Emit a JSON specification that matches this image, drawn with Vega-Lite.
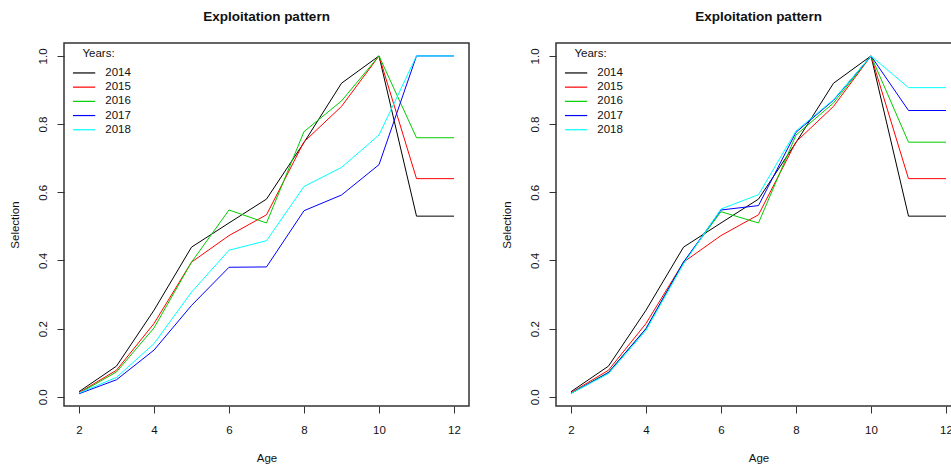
{
  "$schema": "https://vega.github.io/schema/vega-lite/v6.json",
  "padding": {"left": 8, "top": 8, "right": 0, "bottom": 0},
  "bounds": "flush",
  "spacing": 87,
  "background": "white",
  "config": {
    "font": "Liberation Sans",
    "view": {"stroke": "#333333", "strokeWidth": 1.5},
    "axis": {
      "grid": false,
      "domain": false,
      "tickColor": "#333333",
      "tickSize": 7,
      "labelFontSize": 11.5,
      "labelColor": "#111111",
      "titleFontSize": 11.5,
      "titleFontWeight": "normal",
      "titleColor": "#111111"
    },
    "title": {"fontSize": 13.5, "fontWeight": "bold", "color": "#111111", "offset": 20},
    "legend": {
      "orient": "none",
      "legendX": 1.5,
      "legendY": 5,
      "padding": 0,
      "symbolType": "M0.456,0H6.466",
      "symbolSize": 55,
      "symbolStrokeWidth": 1.2,
      "labelFontSize": 11.5,
      "labelColor": "#111111",
      "labelOffset": 28.3,
      "titleFontSize": 11.5,
      "titleFontWeight": "normal",
      "titleColor": "#111111",
      "titleAnchor": "middle",
      "titlePadding": 7.7,
      "rowPadding": 1.2
    }
  },
  "datasets": {
    "left": [
      {"year": "2014", "age": 2, "sel": 0.015}, {"year": "2014", "age": 3, "sel": 0.09}, {"year": "2014", "age": 4, "sel": 0.254}, {"year": "2014", "age": 5, "sel": 0.439}, {"year": "2014", "age": 6, "sel": 0.51}, {"year": "2014", "age": 7, "sel": 0.58}, {"year": "2014", "age": 8, "sel": 0.746}, {"year": "2014", "age": 9, "sel": 0.92}, {"year": "2014", "age": 10, "sel": 1.0}, {"year": "2014", "age": 11, "sel": 0.53}, {"year": "2014", "age": 12, "sel": 0.53},
      {"year": "2015", "age": 2, "sel": 0.012}, {"year": "2015", "age": 3, "sel": 0.078}, {"year": "2015", "age": 4, "sel": 0.215}, {"year": "2015", "age": 5, "sel": 0.395}, {"year": "2015", "age": 6, "sel": 0.473}, {"year": "2015", "age": 7, "sel": 0.534}, {"year": "2015", "age": 8, "sel": 0.748}, {"year": "2015", "age": 9, "sel": 0.852}, {"year": "2015", "age": 10, "sel": 1.0}, {"year": "2015", "age": 11, "sel": 0.64}, {"year": "2015", "age": 12, "sel": 0.64},
      {"year": "2016", "age": 2, "sel": 0.01}, {"year": "2016", "age": 3, "sel": 0.073}, {"year": "2016", "age": 4, "sel": 0.202}, {"year": "2016", "age": 5, "sel": 0.395}, {"year": "2016", "age": 6, "sel": 0.548}, {"year": "2016", "age": 7, "sel": 0.51}, {"year": "2016", "age": 8, "sel": 0.778}, {"year": "2016", "age": 9, "sel": 0.868}, {"year": "2016", "age": 10, "sel": 1.0}, {"year": "2016", "age": 11, "sel": 0.76}, {"year": "2016", "age": 12, "sel": 0.76},
      {"year": "2017", "age": 2, "sel": 0.009}, {"year": "2017", "age": 3, "sel": 0.05}, {"year": "2017", "age": 4, "sel": 0.137}, {"year": "2017", "age": 5, "sel": 0.268}, {"year": "2017", "age": 6, "sel": 0.38}, {"year": "2017", "age": 7, "sel": 0.381}, {"year": "2017", "age": 8, "sel": 0.546}, {"year": "2017", "age": 9, "sel": 0.592}, {"year": "2017", "age": 10, "sel": 0.681}, {"year": "2017", "age": 11, "sel": 1.0}, {"year": "2017", "age": 12, "sel": 1.0},
      {"year": "2018", "age": 2, "sel": 0.011}, {"year": "2018", "age": 3, "sel": 0.057}, {"year": "2018", "age": 4, "sel": 0.156}, {"year": "2018", "age": 5, "sel": 0.307}, {"year": "2018", "age": 6, "sel": 0.43}, {"year": "2018", "age": 7, "sel": 0.458}, {"year": "2018", "age": 8, "sel": 0.617}, {"year": "2018", "age": 9, "sel": 0.673}, {"year": "2018", "age": 10, "sel": 0.768}, {"year": "2018", "age": 11, "sel": 1.0}, {"year": "2018", "age": 12, "sel": 1.0}
    ],
    "right": [
      {"year": "2014", "age": 2, "sel": 0.015}, {"year": "2014", "age": 3, "sel": 0.09}, {"year": "2014", "age": 4, "sel": 0.254}, {"year": "2014", "age": 5, "sel": 0.439}, {"year": "2014", "age": 6, "sel": 0.51}, {"year": "2014", "age": 7, "sel": 0.58}, {"year": "2014", "age": 8, "sel": 0.746}, {"year": "2014", "age": 9, "sel": 0.92}, {"year": "2014", "age": 10, "sel": 1.0}, {"year": "2014", "age": 11, "sel": 0.53}, {"year": "2014", "age": 12, "sel": 0.53},
      {"year": "2015", "age": 2, "sel": 0.012}, {"year": "2015", "age": 3, "sel": 0.078}, {"year": "2015", "age": 4, "sel": 0.215}, {"year": "2015", "age": 5, "sel": 0.395}, {"year": "2015", "age": 6, "sel": 0.473}, {"year": "2015", "age": 7, "sel": 0.534}, {"year": "2015", "age": 8, "sel": 0.748}, {"year": "2015", "age": 9, "sel": 0.852}, {"year": "2015", "age": 10, "sel": 1.0}, {"year": "2015", "age": 11, "sel": 0.64}, {"year": "2015", "age": 12, "sel": 0.64},
      {"year": "2016", "age": 2, "sel": 0.01}, {"year": "2016", "age": 3, "sel": 0.072}, {"year": "2016", "age": 4, "sel": 0.2}, {"year": "2016", "age": 5, "sel": 0.395}, {"year": "2016", "age": 6, "sel": 0.543}, {"year": "2016", "age": 7, "sel": 0.51}, {"year": "2016", "age": 8, "sel": 0.768}, {"year": "2016", "age": 9, "sel": 0.862}, {"year": "2016", "age": 10, "sel": 1.0}, {"year": "2016", "age": 11, "sel": 0.747}, {"year": "2016", "age": 12, "sel": 0.747},
      {"year": "2017", "age": 2, "sel": 0.01}, {"year": "2017", "age": 3, "sel": 0.071}, {"year": "2017", "age": 4, "sel": 0.2}, {"year": "2017", "age": 5, "sel": 0.395}, {"year": "2017", "age": 6, "sel": 0.548}, {"year": "2017", "age": 7, "sel": 0.561}, {"year": "2017", "age": 8, "sel": 0.776}, {"year": "2017", "age": 9, "sel": 0.87}, {"year": "2017", "age": 10, "sel": 1.0}, {"year": "2017", "age": 11, "sel": 0.84}, {"year": "2017", "age": 12, "sel": 0.84},
      {"year": "2018", "age": 2, "sel": 0.01}, {"year": "2018", "age": 3, "sel": 0.068}, {"year": "2018", "age": 4, "sel": 0.195}, {"year": "2018", "age": 5, "sel": 0.39}, {"year": "2018", "age": 6, "sel": 0.551}, {"year": "2018", "age": 7, "sel": 0.593}, {"year": "2018", "age": 8, "sel": 0.78}, {"year": "2018", "age": 9, "sel": 0.872}, {"year": "2018", "age": 10, "sel": 1.0}, {"year": "2018", "age": 11, "sel": 0.907}, {"year": "2018", "age": 12, "sel": 0.907}
    ]
  },
  "resolve": {"scale": {"color": "independent"}, "legend": {"color": "independent"}},
  "hconcat": [
    {
      "data": {"name": "left"},
      "width": 405,
      "height": 363,
      "title": "Exploitation pattern",
      "mark": {"type": "line", "strokeWidth": 1, "clip": true},
      "encoding": {
        "x": {"field": "age", "type": "quantitative", "scale": {"domain": [1.6, 12.4], "nice": false, "zero": false},
              "axis": {"title": "Age", "values": [2, 4, 6, 8, 10, 12], "labelPadding": 17, "labelBaseline": "middle", "titleX": 202.5, "titleY": 52, "titleBaseline": "middle"}},
        "y": {"field": "sel", "type": "quantitative", "scale": {"domain": [-0.027, 1.038], "nice": false, "zero": false},
              "axis": {"title": "Selection", "values": [0, 0.2, 0.4, 0.6, 0.8, 1.0], "format": ".1f", "labelAngle": 270, "labelAlign": "center", "labelBaseline": "middle", "labelPadding": 14, "titleX": -49, "titleY": 181.5, "titleBaseline": "middle", "titleAlign": "center"}},
        "color": {"field": "year", "type": "nominal", "scale": {"domain": ["2014", "2015", "2016", "2017", "2018"], "range": ["#000000", "#FF0000", "#00CD00", "#0000FF", "#00FFFF"]}, "legend": {"title": "Years:"}},
        "order": {"field": "age", "type": "quantitative"}
      }
    },
    {
      "data": {"name": "right"},
      "width": 405,
      "height": 363,
      "title": "Exploitation pattern",
      "mark": {"type": "line", "strokeWidth": 1, "clip": true},
      "encoding": {
        "x": {"field": "age", "type": "quantitative", "scale": {"domain": [1.6, 12.4], "nice": false, "zero": false},
              "axis": {"title": "Age", "values": [2, 4, 6, 8, 10, 12], "labelPadding": 17, "labelBaseline": "middle", "titleX": 202.5, "titleY": 52, "titleBaseline": "middle"}},
        "y": {"field": "sel", "type": "quantitative", "scale": {"domain": [-0.027, 1.038], "nice": false, "zero": false},
              "axis": {"title": "Selection", "values": [0, 0.2, 0.4, 0.6, 0.8, 1.0], "format": ".1f", "labelAngle": 270, "labelAlign": "center", "labelBaseline": "middle", "labelPadding": 14, "titleX": -49, "titleY": 181.5, "titleBaseline": "middle", "titleAlign": "center"}},
        "color": {"field": "year", "type": "nominal", "scale": {"domain": ["2014", "2015", "2016", "2017", "2018"], "range": ["#000000", "#FF0000", "#00CD00", "#0000FF", "#00FFFF"]}, "legend": {"title": "Years:"}},
        "order": {"field": "age", "type": "quantitative"}
      }
    }
  ]
}
